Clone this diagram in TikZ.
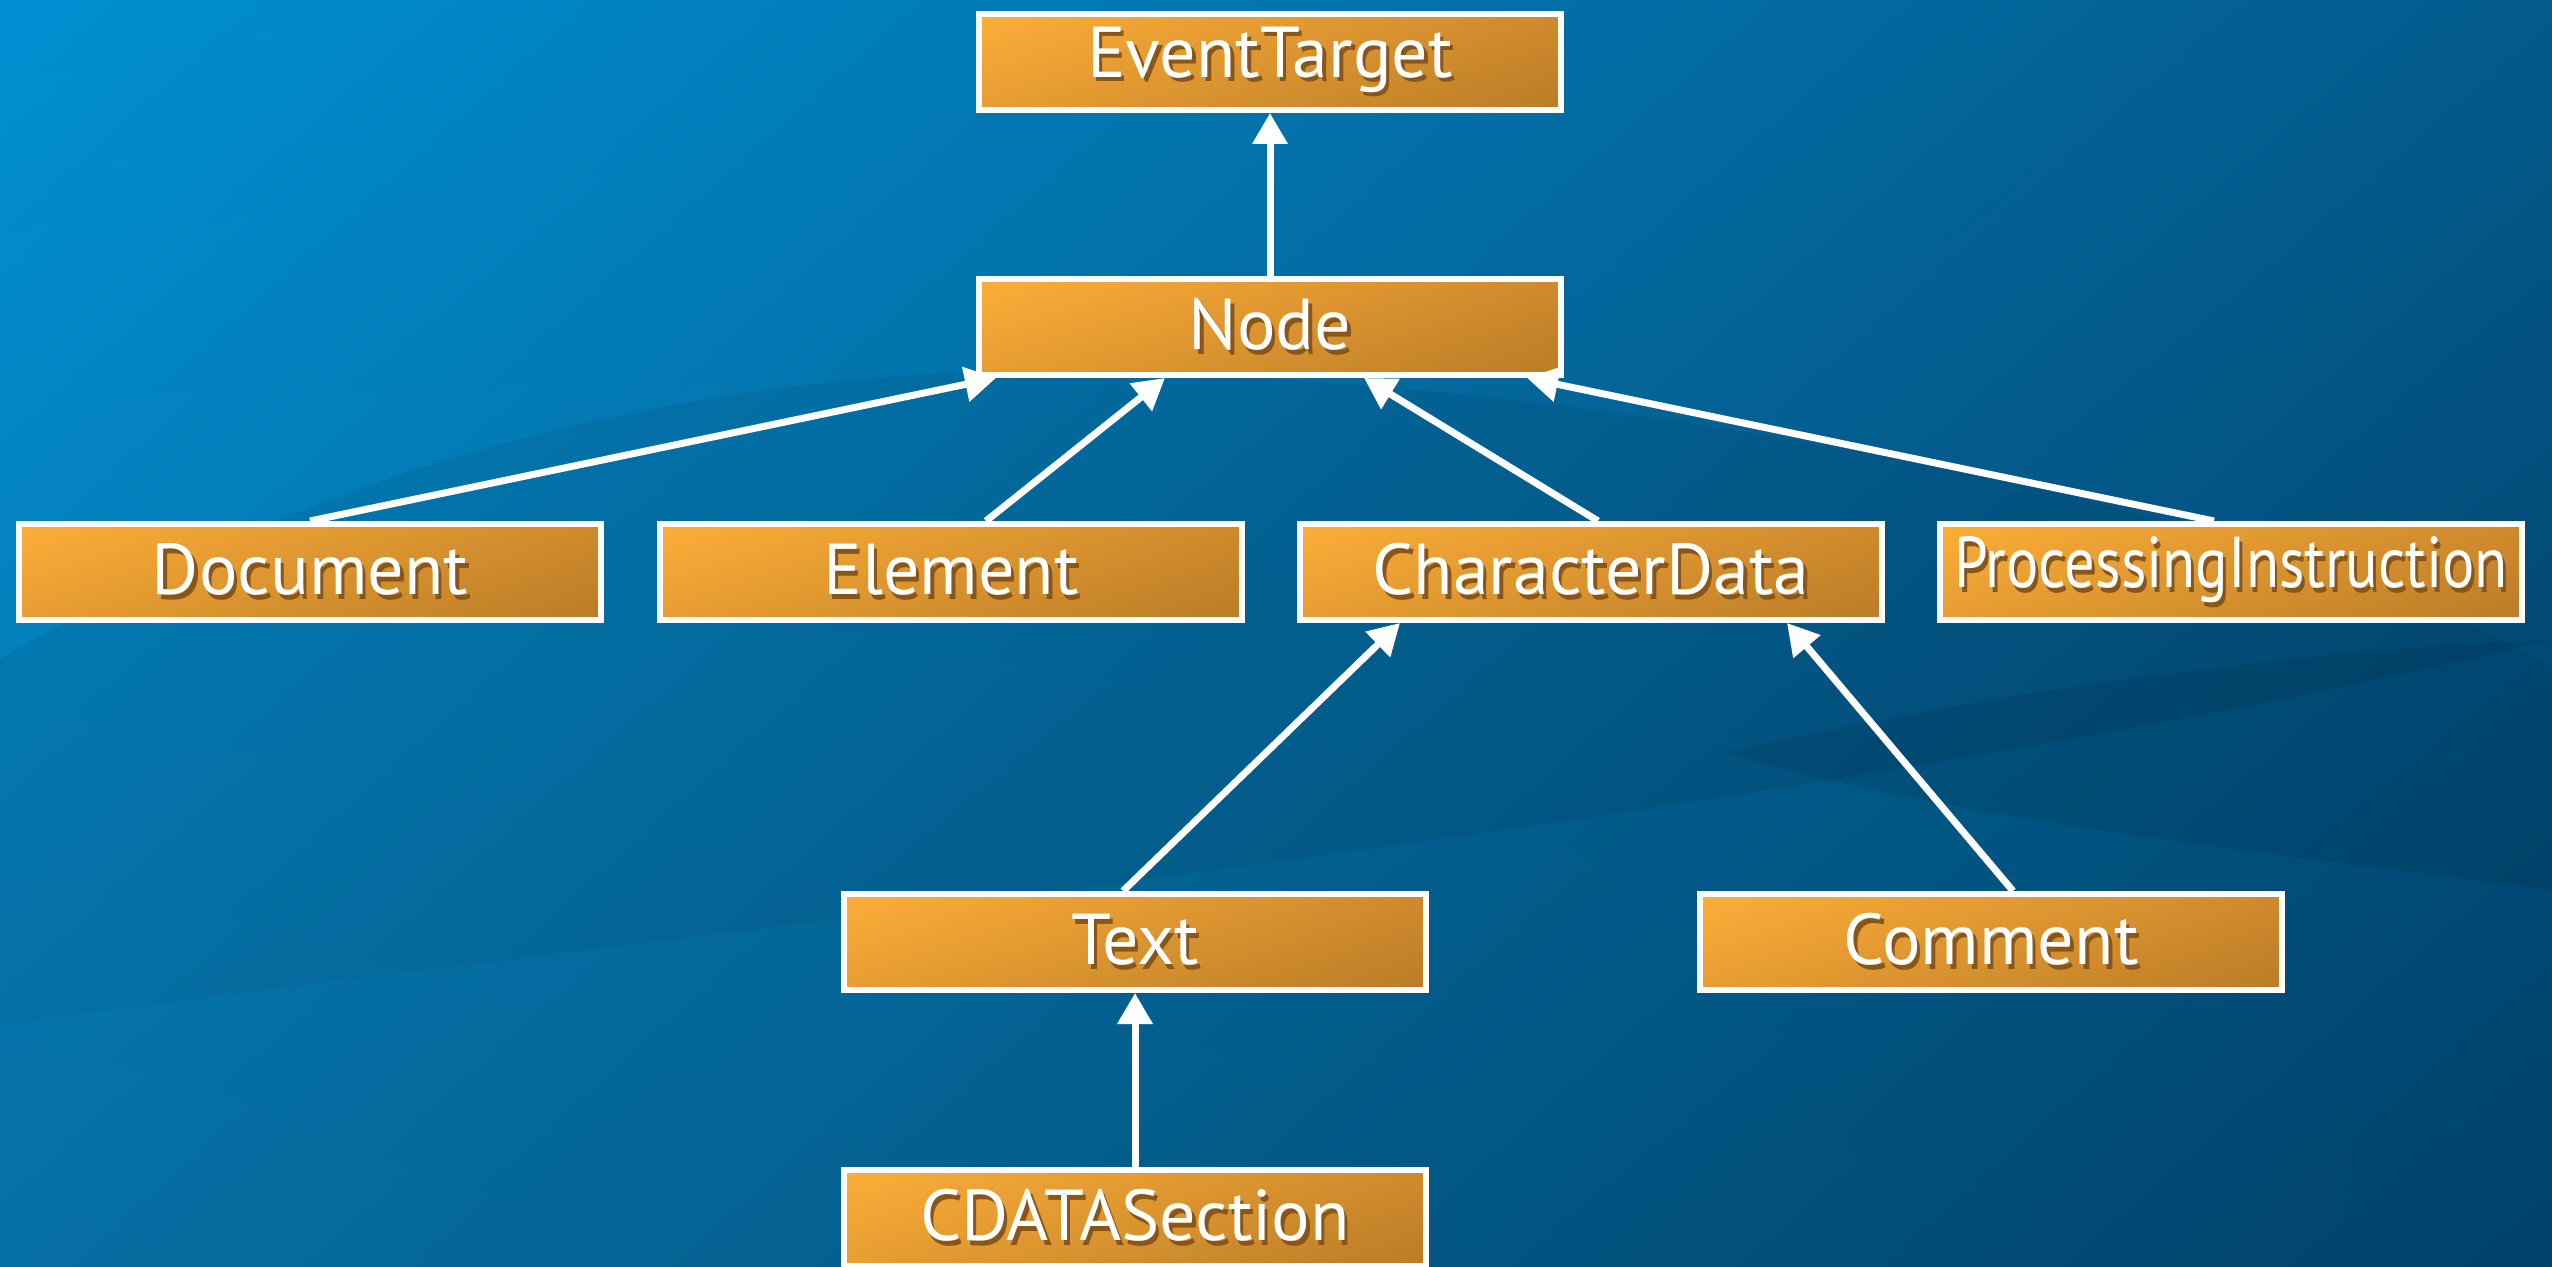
\documentclass[tikz,border=0pt]{standalone}
\usepackage{fontspec}
\setmainfont{PT Sans}
\usetikzlibrary{arrows.meta,calc,shadings}
\definecolor{bgul}{HTML}{0090D2}
\definecolor{bgur}{HTML}{035A8C}
\definecolor{bgll}{HTML}{0872A8}
\definecolor{bglr}{HTML}{023B60}
\definecolor{boxul}{HTML}{FCAE38}
\definecolor{boxur}{HTML}{CF8A2D}
\definecolor{boxll}{HTML}{E69D32}
\definecolor{boxlr}{HTML}{BA7C27}
\definecolor{shadowc}{HTML}{8A5618}
\newcommand\shtext[1]{\makebox[0pt][l]{\hspace{0.35mm}\raisebox{-0.45mm}{\color{shadowc}#1}}#1}
\tikzset{
  classbox/.style={draw=white, line width=0.6mm,
    shading=bilinear interpolation,
    upper left=boxul, upper right=boxur, lower left=boxll, lower right=boxlr,
    minimum width=58.2mm, minimum height=9.6mm, inner sep=0pt,
    text=white, font=\fontsize{20.5}{24}\selectfont},
  inherit/.style={draw=white, line width=0.7mm,
    -{Triangle[width=3.4mm,length=3.1mm]}},
}
\begin{document}
\begin{tikzpicture}[x=0.1mm,y=-0.1mm]
\useasboundingbox (0,0) rectangle (2552,1267);
\clip (0,0) rectangle (2552,1267);
% background
\shade[shading=bilinear interpolation, upper left=bgul, upper right=bgur,
  lower left=bgll, lower right=bglr] (0,0) rectangle (2552,1267);
\fill[black, opacity=0.06] (0,659) .. controls (400,420) and (800,360) .. (1140,372)
  .. controls (1700,392) and (2300,520) .. (2552,667) -- (2552,1267) -- (0,1267) -- cycle;
\fill[bgul, opacity=0.12] (0,1025) .. controls (700,930) and (1800,820) .. (2552,640)
  -- (2552,1267) -- (0,1267) -- cycle;
\fill[black, opacity=0.08] (1725,752) .. controls (2000,690) and (2300,650) .. (2552,640)
  -- (2552,890) .. controls (2250,850) and (1950,820) .. (1725,752) -- cycle;
% boxes
\node[classbox] (et)   at (1270,62)  {\shtext{EventTarget}};
\node[classbox] (nd)   at (1270,327) {\shtext{Node}};
\node[classbox] (doc)  at (310,572)  {\shtext{Document}};
\node[classbox] (el)   at (951,572)  {\shtext{Element}};
\node[classbox] (cd)   at (1591,572) {\shtext{CharacterData}};
\node[classbox] (pi)   at (2231,572) {\scalebox{0.84}[1]{\shtext{ProcessingInstruction}}};
\node[classbox] (tx)   at (1135,942) {\shtext{Text}};
\node[classbox] (cm)   at (1991,942) {\shtext{Comment}};
\node[classbox] (cds)  at (1135,1218) {\shtext{CDATASection}};
% connectors
\draw[inherit] (nd.north) -- (et.south);
\draw[inherit] (doc.north) -- ([xshift=-27.4mm]nd.south);
\draw[inherit] ([xshift=3.5mm]el.north) -- ([xshift=-10.5mm]nd.south);
\draw[inherit] ([xshift=0.7mm]cd.north) -- ([xshift=9.4mm]nd.south);
\draw[inherit] ([xshift=-1.7mm]pi.north) -- ([xshift=25.7mm]nd.south);
\draw[inherit] ([xshift=-1.2mm]tx.north) -- ([xshift=-19.1mm]cd.south);
\draw[inherit] ([xshift=2.2mm]cm.north) -- ([xshift=19.6mm]cd.south);
\draw[inherit] (cds.north) -- (tx.south);
\end{tikzpicture}
\end{document}
